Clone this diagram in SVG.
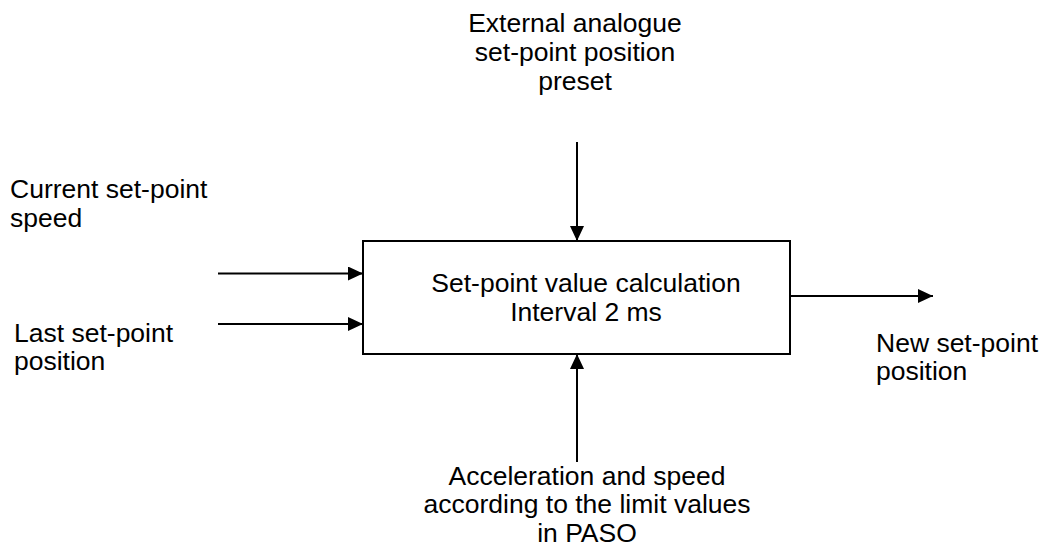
<svg xmlns="http://www.w3.org/2000/svg" width="1046" height="550" viewBox="0 0 1046 550">
  <style>
    text { font-family: "Liberation Sans", Arial, sans-serif; font-size: 26.5px; fill: #000; }
    .c { text-anchor: middle; }
    .box { fill: #fff; stroke: #000; stroke-width: 2; }
    .wire { stroke: #000; stroke-width: 2; fill: none; marker-end: url(#arrow); }
  </style>
  <defs>
    <marker id="arrow" markerUnits="userSpaceOnUse" markerWidth="16" markerHeight="14" refX="15" refY="7" orient="auto">
      <path d="M0,0 L15,7 L0,14 Z" fill="#000"/>
    </marker>
  </defs>
  <rect width="1046" height="550" fill="#fff"/>

  <g id="connectors">
    <line class="wire" x1="577" y1="142" x2="577" y2="241"/>
    <line class="wire" x1="577" y1="462" x2="577" y2="354"/>
    <line class="wire" x1="218" y1="273.5" x2="363" y2="273.5"/>
    <line class="wire" x1="218" y1="324" x2="363" y2="324"/>
    <line class="wire" x1="790" y1="296" x2="933" y2="296"/>
  </g>

  <g id="calc">
    <rect class="box" x="363" y="241" width="427" height="113"/>
    <text class="c" x="586" y="292">Set-point value calculation</text>
    <text class="c" x="586" y="321">Interval 2 ms</text>
  </g>

  <g id="external-preset">
    <text class="c" x="575" y="32">External analogue</text>
    <text class="c" x="575" y="61">set-point position</text>
    <text class="c" x="575" y="90">preset</text>
  </g>

  <g id="current-speed">
    <text x="10" y="198">Current set-point</text>
    <text x="10" y="227">speed</text>
  </g>

  <g id="last-position">
    <text x="14" y="342">Last set-point</text>
    <text x="14" y="370">position</text>
  </g>

  <g id="new-position">
    <text x="876" y="352">New set-point</text>
    <text x="876" y="380">position</text>
  </g>

  <g id="limits">
    <text class="c" x="587" y="485">Acceleration and speed</text>
    <text class="c" x="587" y="513">according to the limit values</text>
    <text class="c" x="587" y="542">in PASO</text>
  </g>
</svg>
